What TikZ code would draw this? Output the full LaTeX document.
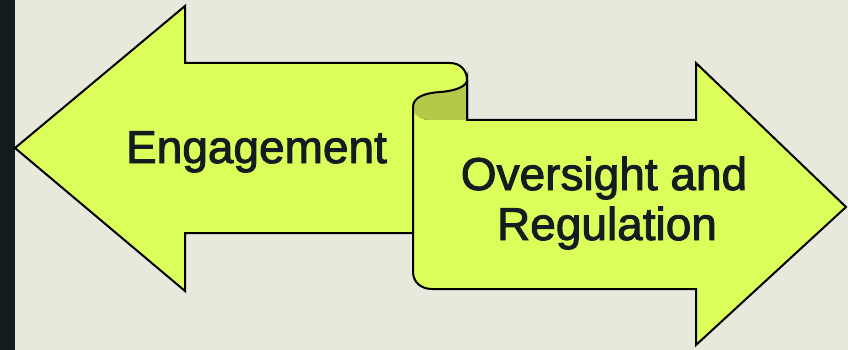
\documentclass[tikz,border=0pt]{standalone}
\usepackage{fontspec}
\setmainfont{Liberation Sans}
\newfontfamily\lblfont[FakeBold=2]{Liberation Sans}
\definecolor{bg}{HTML}{E8E8DD}
\definecolor{strip}{HTML}{141C1F}
\definecolor{lime}{HTML}{DCFE5A}
\definecolor{curl}{HTML}{B5C84A}
\definecolor{ink}{HTML}{141C1F}
\tikzset{
  outline/.style={draw=black, line width=2pt, line join=miter},
  label/.style={text=ink, font=\lblfont\fontsize{46}{50}\selectfont, anchor=base, inner sep=0pt, align=center},
}
\begin{document}
\begin{tikzpicture}[x=1pt, y=-1pt]
\useasboundingbox (0,0) rectangle (848,350);
\fill[bg] (0,0) rectangle (848,350);
\fill[strip] (0,0) rectangle (15,350);
% left arrow
\filldraw[fill=lime, outline] (15,148) -- (185,6) -- (185,63) -- (450,63)
  .. controls (460,63) and (467,70) .. (467,80) -- (467,120) -- (413,120)
  -- (413,233) -- (185,233) -- (185,291) -- cycle;
% right arrow fill
\fill[lime] (413,107) -- (413,272) .. controls (413,282) and (421,289) .. (432,289)
  -- (696,289) -- (696,345) -- (846,207) -- (696,63) -- (696,120) -- (467,120)
  -- (430,120) .. controls (419,120) and (413,114) .. (413,107) -- cycle;
% curl inside
\fill[curl] (413,107) .. controls (413,97) and (425,93) .. (440,92)
  .. controls (456,91) and (467,86) .. (467,80) -- (467,120) -- (430,120)
  .. controls (419,120) and (413,114) .. (413,107) -- cycle;
% right arrow outline
\draw[outline] (413,107) -- (413,272) .. controls (413,282) and (421,289) .. (432,289)
  -- (696,289) -- (696,345) -- (846,207) -- (696,63) -- (696,120) -- (466,120);
\draw[outline] (413,107) .. controls (413,97) and (425,93) .. (440,92)
  .. controls (456,91) and (467,86) .. (467,80) -- (467,121);
% labels
\node[label] (eng) at (256.5,163) {Engagement};
\node[label] (ovs) at (604,190) {Oversight and};
\node[label] (reg) at (607,240) {Regulation};
\end{tikzpicture}
\end{document}
